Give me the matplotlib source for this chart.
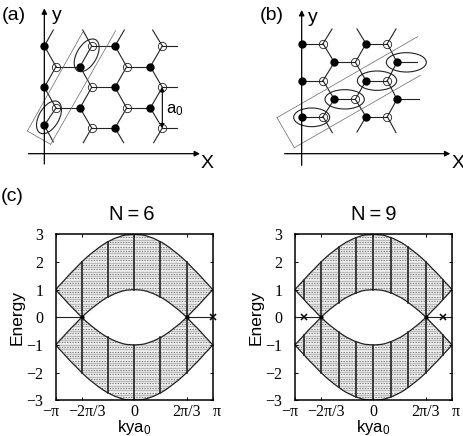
import matplotlib
matplotlib.use("Agg")
import matplotlib.pyplot as plt
from matplotlib.patches import Ellipse, Polygon
from matplotlib.transforms import ScaledTranslation
import numpy as np

plt.rcParams['font.family'] = ['Liberation Sans', 'DejaVu Sans']
plt.rcParams['mathtext.fontset'] = 'custom'
plt.rcParams['mathtext.rm'] = 'Liberation Sans'
plt.rcParams['mathtext.default'] = 'rm'

# band edges (k in units of pi, from -pi to 0, mirrored later)
k_half = [-1, -.95, -.9, -.85, -.8, -.75, -.7, -.6667, -.65, -.6, -.55, -.5, -.45, -.4, -.35, -.3, -.25, -.2, -.15, -.1, -.05, 0]
upper_half = [1, 1.16, 1.31, 1.47, 1.62, 1.76, 1.91, 2, 2.05, 2.18, 2.30, 2.41, 2.52, 2.62, 2.71, 2.78, 2.85, 2.90, 2.95, 2.98, 2.99, 3]
lower_half = [1, .84, .69, .53, .38, .24, .09, 0, .05, .18, .30, .41, .52, .62, .71, .78, .85, .90, .95, .98, .99, 1]

# vertical subband lines
cuts6 = [-.6667, -.3333, 0, .3333, .6667]
cuts6_lo = [0, .73, 1, .73, 0]
cuts6_hi = [2, 2.73, 3, 2.73, 2]
cuts9 = [-.8889, -.6667, -.4444, -.2222, 0, .2222, .4444, .6667, .8889]
cuts9_lo = [.65, 0, .53, .88, 1, .88, .53, 0, .65]
cuts9_hi = [1.35, 2, 2.53, 2.88, 3, 2.88, 2.53, 2, 1.35]

# zero energy states
cross6 = [1]
cross9 = [-.8889, .8889]

pi_ticks = [-1, -.6667, 0, .6667, 1]
pi_labels = ['\u2212\u03c0', '\u22122\u03c0/3', '0', '2\u03c0/3', '\u03c0']
pi_shift = [-5, 5, 0, 0, 4]  # px, labels were nudged apart in the original
e_ticks = [-3, -2, -1, 0, 1, 2, 3]
e_labels = ['\u22123', '\u22122', '\u22121', '0', '1', '2', '3']

# lattice sketches, coordinates in 1/3 picture pixels
a_full = [(133, 138), (345, 138), (240, 200), (451, 200), (133, 262), (345, 262), (240, 324), (451, 324), (133, 376), (345, 384)]
a_open = [(275, 138), (487, 138), (168, 200), (380, 200), (275, 262), (487, 262), (168, 324), (380, 324), (275, 384), (487, 384)]
a_bonds = [
    ((275, 138), (345, 138)), ((487, 138), (532, 138)), ((168, 200), (240, 200)), ((380, 200), (451, 200)),
    ((275, 262), (345, 262)), ((487, 262), (532, 262)), ((168, 324), (240, 324)), ((380, 324), (451, 324)),
    ((275, 384), (345, 384)), ((487, 384), (532, 384)),
    ((133, 138), (168, 200)), ((133, 138), (160, 90)), ((240, 200), (275, 138)), ((240, 200), (275, 262)),
    ((275, 138), (248, 90)), ((345, 138), (380, 200)), ((345, 138), (373, 90)), ((451, 200), (487, 138)),
    ((451, 200), (487, 262)), ((487, 138), (458, 90)), ((168, 200), (133, 262)), ((133, 262), (168, 324)),
    ((380, 200), (345, 262)), ((345, 262), (380, 324)), ((275, 262), (240, 324)), ((240, 324), (275, 384)),
    ((487, 262), (451, 324)), ((451, 324), (487, 384)), ((168, 324), (133, 376)), ((133, 376), (160, 426)),
    ((380, 324), (345, 384)), ((345, 384), (371, 428)), ((275, 384), (250, 428)), ((487, 384), (461, 428)),
]
a_ellipses = [(260, 166, 108, 60, -60), (147, 352, 108, 60, -60)]
a_box = [((248, 97), (82, 393)), ((82, 393), (152, 433)), ((152, 433), (347, 92))]

b_full = [(209, 131), (402, 131), (307, 187), (495, 187), (209, 242), (402, 242), (307, 298), (495, 298), (209, 350), (402, 350)]
b_open = [(273, 131), (466, 131), (370, 187), (273, 242), (466, 242), (370, 298), (273, 350), (466, 350)]
b_bonds = [
    ((209, 131), (273, 131)), ((402, 131), (466, 131)), ((307, 187), (370, 187)), ((495, 187), (555, 187)),
    ((209, 242), (273, 242)), ((402, 242), (466, 242)), ((307, 298), (370, 298)), ((495, 298), (562, 298)),
    ((209, 350), (273, 350)), ((402, 350), (466, 350)),
    ((273, 131), (300, 87)), ((273, 131), (307, 187)), ((402, 131), (375, 87)), ((402, 131), (370, 187)),
    ((466, 131), (492, 87)), ((466, 131), (495, 187)), ((307, 187), (273, 242)), ((370, 187), (402, 242)),
    ((495, 187), (466, 242)), ((273, 242), (307, 298)), ((402, 242), (370, 298)), ((466, 242), (495, 298)),
    ((307, 298), (273, 350)), ((370, 298), (402, 350)), ((495, 298), (466, 350)),
    ((273, 350), (301, 398)), ((402, 350), (375, 396)), ((466, 350), (492, 398)),
]
b_ellipses = [(239, 352, 108, 56, 0), (338, 298, 118, 58, 0), (435, 242, 118, 58, 0), (523, 187, 120, 58, 0)]
b_box = [((557, 110), (135, 353)), ((135, 353), (187, 443)), ((187, 443), (565, 226))]
b_offset = 696


def draw_lattice(sk, full, empty, bonds, ellipses, box, dx):
    for p, q in bonds:
        sk.plot([p[0]+dx, q[0]+dx], [p[1], q[1]], color='#222222', lw=0.8, zorder=2)
    for p, q in box:
        sk.plot([p[0]+dx, q[0]+dx], [p[1], q[1]], color='#666666', lw=0.5, zorder=2)
    sk.plot([p[0]+dx for p in full], [p[1] for p in full], 'o', color='black', ms=6, zorder=4, mew=0)
    sk.plot([p[0]+dx for p in empty], [p[1] for p in empty], 'o', mfc='none', mec='#222222', ms=6, mew=0.6, zorder=4)
    for x, y, w, h, ang in ellipses:
        sk.add_patch(Ellipse((x+dx, y), w, h, angle=ang, fill=False, ec='#222222', lw=0.8, zorder=3))


def draw_axes_arrows(sk, x0, y0, y_top, x_left, x_right, y_bot):
    sk.annotate('', xy=(x0, y_top), xytext=(x0, y_bot), arrowprops=dict(arrowstyle='-|>', color='black', lw=0.9, mutation_scale=8, shrinkA=0, shrinkB=0))
    sk.annotate('', xy=(x_right, y0), xytext=(x_left, y0), arrowprops=dict(arrowstyle='-|>', color='black', lw=0.9, mutation_scale=8, shrinkA=0, shrinkB=0))


def draw_band(ax, cuts, lows, highs, crosses):
    k = np.array(k_half + [-v for v in k_half[-2::-1]])
    up = np.array(upper_half + upper_half[-2::-1])
    lo = np.array(lower_half + lower_half[-2::-1])
    for sign in (1, -1):
        poly = Polygon(np.c_[np.r_[k, k[::-1]], sign*np.r_[up, lo[::-1]]], closed=True, fc='#f0f0f0', ec='none', zorder=1)
        ax.add_patch(poly)
        for i, lev in enumerate(np.arange(0, 3.1, .0825)):
            if i % 2:
                ln, = ax.plot([-1, 1], [sign*lev]*2, color='#7a7a7a', lw=0.8, ls=(0, (1.2, 1.2)), zorder=1.5)
            else:
                ln, = ax.plot([-1, 1], [sign*lev]*2, color='#bcbcbc', lw=1.0, zorder=1.5)
            ln.set_clip_path(poly)
        ax.plot(k, sign*up, color='#222222', lw=0.9, zorder=2)
        ax.plot(k, sign*lo, color='#222222', lw=0.9, zorder=2)
        for c, a, b in zip(cuts, lows, highs):
            ax.plot([c, c], [sign*a, sign*b], color='#222222', lw=1.2, zorder=2.5)
    ax.plot([-1, -.6667], [0, 0], color='#222222', lw=0.8, zorder=2)
    ax.plot([.6667, 1], [0, 0], color='#222222', lw=0.8, zorder=2)
    ax.plot(crosses, [0]*len(crosses), 'x', color='black', ms=4, mew=1.1, zorder=5, clip_on=False)
    ax.plot([-.6667, .6667], [0, 0], '.', color='black', ms=4, zorder=5)
    ax.set_xlim(-1, 1)
    ax.set_ylim(-3, 3)
    ax.set_xticks(pi_ticks)
    ax.set_xticklabels(pi_labels, family='Liberation Serif', fontsize=11.5)
    ax.set_yticks(e_ticks)
    ax.set_yticklabels(e_labels, family='Liberation Serif', fontsize=11.5)
    ax.tick_params(direction='in', top=True, right=True, length=2, width=0.7)
    ax.tick_params(axis='y', pad=9)
    ax.tick_params(axis='x', pad=3)
    # after tick_params, it resets the label transforms
    for lab, dx in zip(ax.get_xticklabels(), pi_shift):
        lab.set_transform(lab.get_transform() + ScaledTranslation(dx/100, 0, fig.dpi_scale_trans))
    for s in ax.spines.values():
        s.set_linewidth(1.1)
    ax.set_xlabel('kya$_{0}$', fontsize=12, labelpad=-1.5)
    ax.set_ylabel('Energy', fontsize=12.5, labelpad=1)


fig = plt.figure(figsize=(4.64, 4.36), dpi=100)

sk = fig.add_axes([0, 0, 1, 1])
sk.set_xlim(0, 1392)
sk.set_ylim(1308, 0)
sk.axis('off')

draw_lattice(sk, a_full, a_open, a_bonds, a_ellipses, a_box, 0)
draw_axes_arrows(sk, 133, 461, 25, 85, 600, 492)
draw_lattice(sk, b_full, b_open, b_bonds, b_ellipses, b_box, b_offset)
draw_axes_arrows(sk, 209+b_offset, 461, 30, 158+b_offset, 655+b_offset, 496)
sk.annotate('', xy=(487, 262), xytext=(487, 384), arrowprops=dict(arrowstyle='<|-|>', color='black', lw=0.8, mutation_scale=6, shrinkA=0, shrinkB=0), zorder=5)

sk.text(40, 46, '(a)', fontsize=14, ha='center', va='center')
sk.text(170, 46, 'y', fontsize=14, ha='center', va='center')
sk.text(622, 490, 'X', fontsize=14, ha='center', va='center')
sk.text(524, 330, 'a$_{0}$', fontsize=12, ha='center', va='center')
sk.text(120+b_offset, 46, '(b)', fontsize=14, ha='center', va='center')
sk.text(243+b_offset, 52, 'y', fontsize=14, ha='center', va='center')
sk.text(677+b_offset, 490, 'X', fontsize=14, ha='center', va='center')
sk.text(38, 590, '(c)', fontsize=14, ha='center', va='center')
sk.text(395, 642, 'N\u2009=\u20096', fontsize=14.5, ha='center', va='center')
sk.text(425+b_offset, 642, 'N\u2009=\u20099', fontsize=14.5, ha='center', va='center')

ax1 = fig.add_axes([55.7/464, 35.7/436, 157/464, 166/436])
draw_band(ax1, cuts6, cuts6_lo, cuts6_hi, cross6)
ax2 = fig.add_axes([295/464, 35.7/436, 157/464, 166/436])
draw_band(ax2, cuts9, cuts9_lo, cuts9_hi, cross9)

fig.savefig('out.png', dpi=100)
